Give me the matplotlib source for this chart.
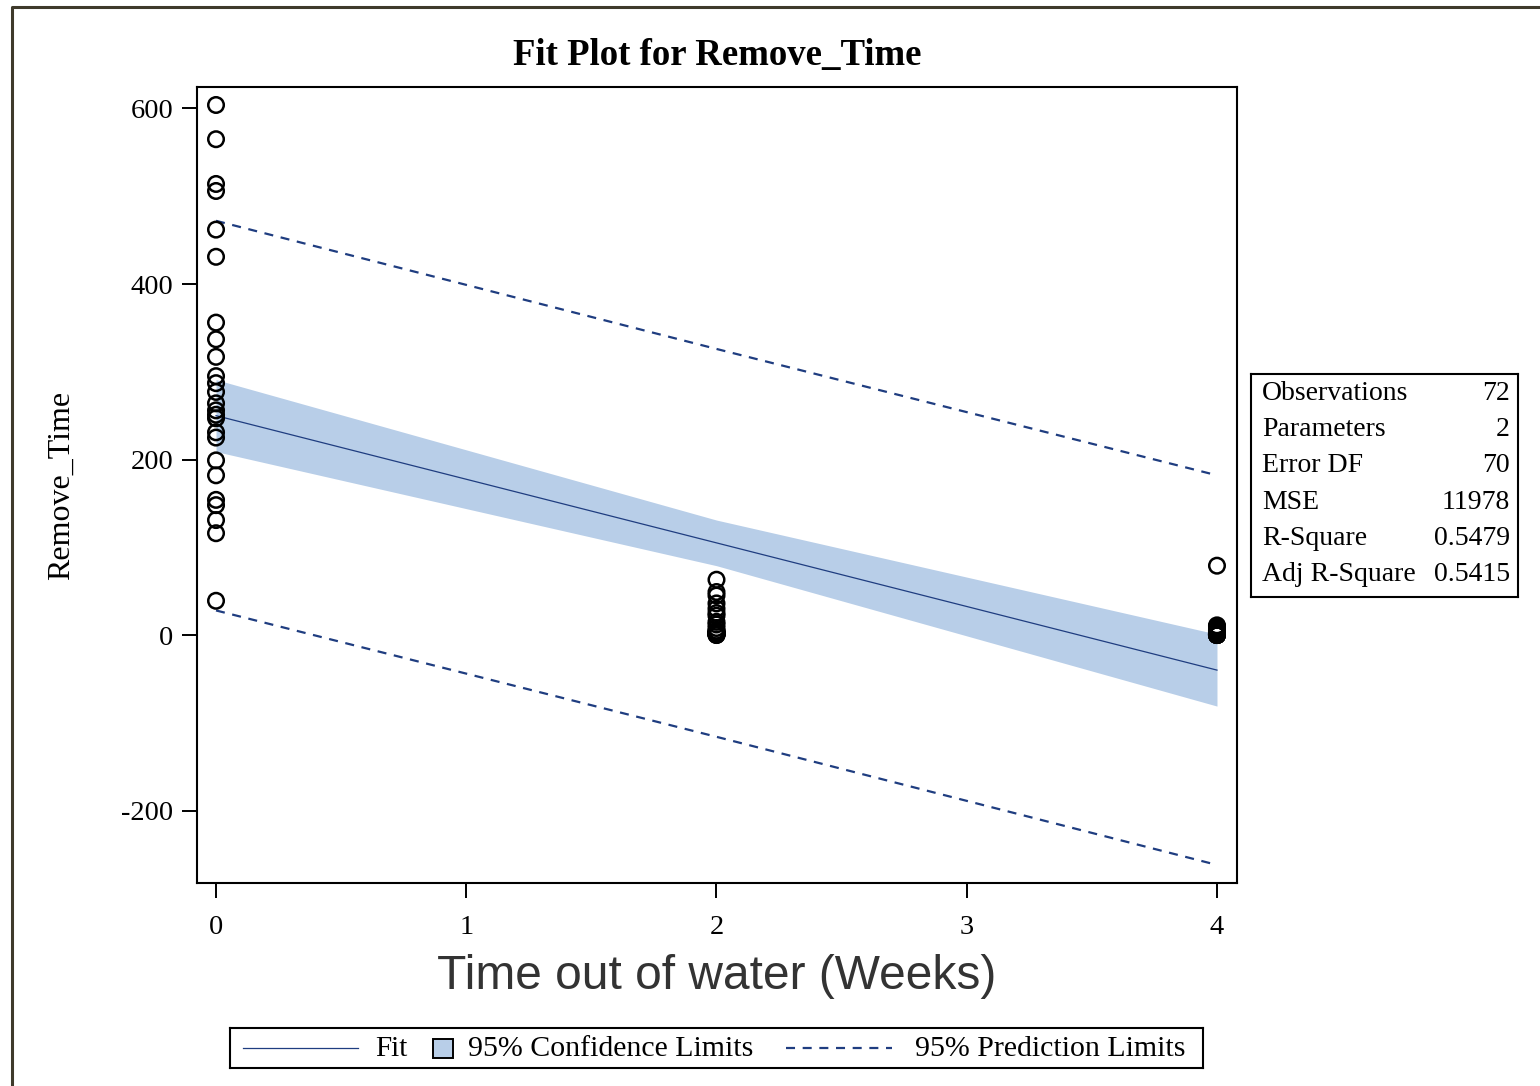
import matplotlib
matplotlib.use("Agg")
import matplotlib.pyplot as plt
from matplotlib.patches import Rectangle
from matplotlib.lines import Line2D

plt.rcParams.update({"font.family": "Liberation Serif", "lines.scale_dashes": False,
                     "axes.unicode_minus": False})

# observations (weeks out of water, removal time)
x0_times = [604, 565, 514, 506, 462, 431, 356, 337, 317, 295, 287, 277,
            264, 256, 251, 247, 231, 225, 199, 182, 154, 148, 131, 116, 39]
x2_times = [63, 49, 45, 36, 30, 25, 22, 15, 12, 8, 5, 4, 3, 3, 2, 2, 2,
            1, 1, 1, 1, 0, 0]
x4_times = [79, 11, 10, 8, 6, 5, 4, 3, 3, 2, 2, 2, 1, 1, 1, 1, 1, 0, 0, 0,
            0, 0, 0, 0]
weeks = [0, 2, 4]

# fit and limits at the observed x values
fit = [250, 105, -40]
ci_lo = [209, 79, -81]
ci_hi = [291, 131, 1]
pi_lo = [28, -116, -262]
pi_hi = [472, 326, 182]

stat_names = ["Observations", "Parameters", "Error DF", "MSE", "R-Square", "Adj R-Square"]
stat_vals = ["72", "2", "70", "11978", "0.5479", "0.5415"]

FIT_C = "#1f3d80"
BAND_C = "#b8cee8"
W, H = 1540, 1086

fig = plt.figure(figsize=(15.4, 10.86), dpi=100)

# outer frame
frame = fig.add_axes([0, 0, 1, 1])
frame.set_xlim(0, W)
frame.set_ylim(H, 0)
frame.axis("off")
frame.plot([12, 12, W + 5], [H + 5, 7, 7], color="#3f3a2b", lw=2.2, clip_on=False)

ax = fig.add_axes([197 / W, 1 - 883 / H, 1040 / W, 796 / H])
ax.fill_between(weeks, ci_lo, ci_hi, color=BAND_C, lw=0, zorder=1)
ax.plot(weeks, fit, color=FIT_C, lw=0.9, zorder=2)
ax.plot(weeks, pi_hi, color=FIT_C, lw=1.6, dashes=(6.5, 5.5), zorder=2)
ax.plot(weeks, pi_lo, color=FIT_C, lw=1.6, dashes=(6.5, 5.5), zorder=2)
for xv, ys in zip(weeks, [x0_times, x2_times, x4_times]):
    ax.scatter([xv] * len(ys), ys, s=125, facecolors="none", edgecolors="black",
               linewidths=1.8, zorder=3)

ax.set_xlim(-0.076, 4.08)
ax.set_ylim(-282.6, 624.5)
ax.set_xticks([0, 1, 2, 3, 4])
ax.set_yticks([-200, 0, 200, 400, 600])
ax.tick_params(direction="out", length=11, width=1.4, labelsize=20.5)
ax.tick_params(axis="x", pad=12)
ax.tick_params(axis="y", pad=6)
for s in ax.spines.values():
    s.set_linewidth(1.5)

ax.set_title("Fit Plot for Remove_Time", fontsize=26.5, fontweight="bold", pad=16)
ax.set_xlabel("Time out of water (Weeks)", fontsize=34.5, family="Liberation Sans",
              color="#333333")
ax.xaxis.set_label_coords(0.5, -0.118)
ax.xaxis.label.set_va("center")
ax.set_ylabel("Remove_Time", fontsize=23)
ax.yaxis.set_label_coords(-0.13, 0.5)
ax.yaxis.label.set_va("center")

# fit statistics box
sb = fig.add_axes([1251 / W, 1 - 597 / H, 267 / W, 223 / H])
sb.set_xticks([])
sb.set_yticks([])
for s in sb.spines.values():
    s.set_linewidth(1.5)
for i, (n, v) in enumerate(zip(stat_names, stat_vals)):
    yy = (597 - (393.5 + 36.2 * i)) / 223
    sb.text(0.041, yy, n, fontsize=20, va="center", ha="left", transform=sb.transAxes)
    sb.text(0.970, yy, v, fontsize=20, va="center", ha="right", transform=sb.transAxes)

# legend strip
lg = fig.add_axes([230 / W, 1 - 1068 / H, 973 / W, 40 / H])
lg.set_xlim(230, 1203)
lg.set_ylim(1068, 1028)
lg.set_xticks([])
lg.set_yticks([])
for s in lg.spines.values():
    s.set_linewidth(1.5)
lg.add_line(Line2D([243, 358], [1048, 1048], color=FIT_C, lw=0.9))
lg.text(375, 1049, "Fit", fontsize=21, va="center")
lg.add_patch(Rectangle((433, 1039), 20, 19, fc=BAND_C, ec="black", lw=1.4))
lg.text(468, 1049, "95% Confidence Limits", fontsize=21.5, va="center")
lg.add_line(Line2D([786, 892], [1048, 1048], color=FIT_C, lw=1.6, dashes=(6.5, 5.5)))
lg.text(915, 1049, "95% Prediction Limits", fontsize=21.5, va="center")

fig.savefig("out.png", dpi=100, facecolor="white")
